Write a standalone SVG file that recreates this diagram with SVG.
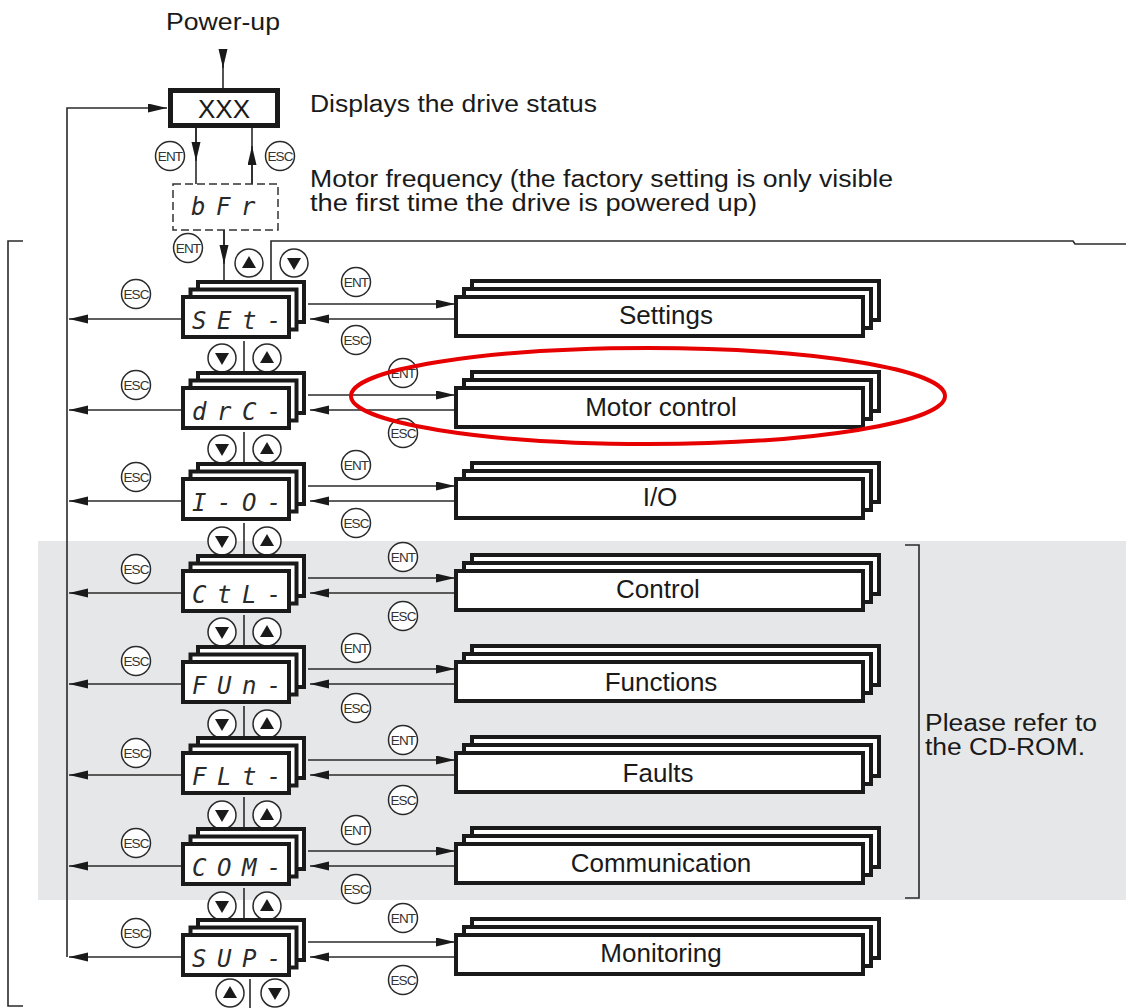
<svg xmlns="http://www.w3.org/2000/svg" width="1126" height="1008" viewBox="0 0 1126 1008">
<style>
  .t{font-family:"Liberation Sans",Arial,sans-serif;fill:#1a1a1a}
  .lbl{font-size:23.5px}
  .sub{font-size:26px;text-anchor:middle}
  .seg{font-family:"DejaVu Sans Mono",monospace;font-style:italic;font-size:24px;fill:#2a2a2a;letter-spacing:10.5px}
  .ln{fill:none;stroke:#2a2a2a;stroke-width:1.6}
  .frame{fill:#fff;stroke:#1a1a1a;stroke-width:4}
  .btn{fill:#fff;stroke:#2a2a2a;stroke-width:1.5}
  .btxt{font-family:"Liberation Sans",Arial,sans-serif;font-size:13.5px;fill:#333;text-anchor:middle;letter-spacing:-0.9px}
  .tri{fill:#1a1a1a}
</style>
<defs>
  <marker id="ah" markerUnits="userSpaceOnUse" markerWidth="20" markerHeight="10" refX="19" refY="4.5" orient="auto">
    <path d="M0,0 L19,4.5 L0,9 z" fill="#1a1a1a"/>
  </marker>
  <g id="stack">
    <rect class="frame" x="17" y="-13" width="106" height="40"/>
    <rect class="frame" x="9.5" y="-5.5" width="106" height="40"/>
    <rect class="frame" x="2" y="2" width="106" height="40" stroke-width="4.5"/>
  </g>
  <g id="sstack">
    <rect class="frame" x="18" y="-14" width="407" height="39"/>
    <rect class="frame" x="10" y="-6" width="407" height="39"/>
    <rect class="frame" x="2" y="2" width="407" height="39"/>
  </g>
  <g id="bup"><circle class="btn" r="14"/><path class="tri" d="M0,-7 L7,5 L-7,5 z"/></g>
  <g id="bdn"><circle class="btn" r="14"/><path class="tri" d="M0,7 L7,-5 L-7,-5 z"/></g>
  <g id="ent"><circle class="btn" r="14.5"/><text class="btxt" y="5">ENT</text></g>
  <g id="esc"><circle class="btn" r="14.5"/><text class="btxt" y="5">ESC</text></g>
</defs>

<rect x="38" y="541" width="1088" height="359" fill="#e6e7e9"/>

<!-- texts -->
<text class="t lbl" x="166" y="30" textLength="114" lengthAdjust="spacingAndGlyphs">Power-up</text>
<text class="t lbl" x="310" y="112" textLength="287" lengthAdjust="spacingAndGlyphs">Displays the drive status</text>
<text class="t lbl" x="310" y="187" textLength="583" lengthAdjust="spacingAndGlyphs">Motor frequency (the factory setting is only visible</text>
<text class="t lbl" x="310" y="211" textLength="447" lengthAdjust="spacingAndGlyphs">the first time the drive is powered up)</text>
<text class="t lbl" x="925" y="731" textLength="172" lengthAdjust="spacingAndGlyphs">Please refer to</text>
<text class="t lbl" x="925" y="755" textLength="160" lengthAdjust="spacingAndGlyphs">the CD-ROM.</text>

<!-- brackets -->
<path class="ln" d="M23,241 H8 V1006 H23"/>
<path class="ln" d="M905,545 H919 V898 H905"/>

<g id="connectors">
  <line class="ln" x1="223" y1="50" x2="223" y2="88"/>
  <path class="ln" d="M223,50 V68" marker-end="url(#ah)"/>
  <path class="ln" d="M67,957 V108 H167" marker-end="url(#ah)"/>
  <line class="ln" x1="196" y1="128" x2="196" y2="184"/>
  <path class="ln" d="M196,128 V161" marker-end="url(#ah)"/>
  <line class="ln" x1="252" y1="128" x2="252" y2="184"/>
  <path class="ln" d="M252,184 V146" marker-end="url(#ah)"/>
  <line class="ln" x1="224" y1="230" x2="224" y2="284"/>
  <path class="ln" d="M224,230 V264" marker-end="url(#ah)"/>
  <path class="ln" d="M271,284 V241 H1073 L1075,244 H1126"/>
  <path class="ln" d="M244,341 V375 M244,432 V466 M244,523 V558 M244,615 V649 M244,706 V740 M244,797 V831 M244,888 V922"/>
  <path class="ln" d="M250,979 V1008"/>
  <path class="ln" d="M183,319 H69" marker-end="url(#ah)"/>
  <path class="ln" d="M183,410 H69" marker-end="url(#ah)"/>
  <path class="ln" d="M183,501 H69" marker-end="url(#ah)"/>
  <path class="ln" d="M183,593 H69" marker-end="url(#ah)"/>
  <path class="ln" d="M183,684 H69" marker-end="url(#ah)"/>
  <path class="ln" d="M183,775 H69" marker-end="url(#ah)"/>
  <path class="ln" d="M183,866 H69" marker-end="url(#ah)"/>
  <path class="ln" d="M183,957 H69" marker-end="url(#ah)"/>
  <path class="ln" d="M308,304 H455" marker-end="url(#ah)"/>
  <path class="ln" d="M456,319 H310" marker-end="url(#ah)"/>
  <path class="ln" d="M308,395 H455" marker-end="url(#ah)"/>
  <path class="ln" d="M456,410 H310" marker-end="url(#ah)"/>
  <path class="ln" d="M308,486 H455" marker-end="url(#ah)"/>
  <path class="ln" d="M456,501 H310" marker-end="url(#ah)"/>
  <path class="ln" d="M308,578 H455" marker-end="url(#ah)"/>
  <path class="ln" d="M456,593 H310" marker-end="url(#ah)"/>
  <path class="ln" d="M308,669 H455" marker-end="url(#ah)"/>
  <path class="ln" d="M456,684 H310" marker-end="url(#ah)"/>
  <path class="ln" d="M308,760 H455" marker-end="url(#ah)"/>
  <path class="ln" d="M456,775 H310" marker-end="url(#ah)"/>
  <path class="ln" d="M308,851 H455" marker-end="url(#ah)"/>
  <path class="ln" d="M456,866 H310" marker-end="url(#ah)"/>
  <path class="ln" d="M308,942 H455" marker-end="url(#ah)"/>
  <path class="ln" d="M456,957 H310" marker-end="url(#ah)"/>
</g>

<g id="buttons">
  <use href="#ent" x="170" y="156"/>
  <use href="#esc" x="280" y="156"/>
  <use href="#ent" x="188" y="248"/>
  <use href="#bup" x="249" y="263"/>
  <use href="#bdn" x="294" y="263"/>
  <use href="#bdn" x="222" y="358"/><use href="#bup" x="267" y="358"/>
  <use href="#bdn" x="222" y="449"/><use href="#bup" x="267" y="449"/>
  <use href="#bdn" x="222" y="541"/><use href="#bup" x="267" y="541"/>
  <use href="#bdn" x="222" y="632"/><use href="#bup" x="267" y="632"/>
  <use href="#bdn" x="222" y="724"/><use href="#bup" x="267" y="724"/>
  <use href="#bdn" x="222" y="815"/><use href="#bup" x="267" y="815"/>
  <use href="#bdn" x="222" y="906"/><use href="#bup" x="267" y="906"/>
  <use href="#bup" x="230" y="993"/><use href="#bdn" x="275" y="993"/>
  <use href="#esc" x="136" y="294"/><use href="#esc" x="136" y="385"/>
  <use href="#esc" x="136" y="477"/><use href="#esc" x="136" y="569"/>
  <use href="#esc" x="136" y="661"/><use href="#esc" x="136" y="753"/>
  <use href="#esc" x="136" y="843"/><use href="#esc" x="136" y="933"/>
  <use href="#ent" x="356" y="282"/><use href="#esc" x="356" y="340"/>
  <use href="#ent" x="403" y="373"/><use href="#esc" x="403" y="433"/>
  <use href="#ent" x="356" y="465"/><use href="#esc" x="356" y="523"/>
  <use href="#ent" x="403" y="557"/><use href="#esc" x="403" y="616"/>
  <use href="#ent" x="356" y="648"/><use href="#esc" x="356" y="708"/>
  <use href="#ent" x="403" y="740"/><use href="#esc" x="403" y="800"/>
  <use href="#ent" x="356" y="830"/><use href="#esc" x="356" y="889"/>
  <use href="#ent" x="403" y="918"/><use href="#esc" x="403" y="980"/>
</g>

<g id="node-xxx">
  <rect x="170.5" y="90.5" width="107" height="35" fill="#fff" stroke="#1a1a1a" stroke-width="5"/>
  <text class="t" x="224" y="118" font-size="26" text-anchor="middle">XXX</text>
</g>
<g id="node-bfr">
  <rect x="173" y="184" width="105" height="46" fill="#fff" stroke="#333" stroke-width="1.5" stroke-dasharray="8,4"/>
  <text class="seg" x="191" y="215" font-size="22">bFr</text>
</g>

<g id="node-set"><use href="#stack" x="181" y="295"/><text class="seg" x="192" y="329">SEt-</text></g>
<g id="node-drc"><use href="#stack" x="181" y="386"/><text class="seg" x="192" y="420">drC-</text></g>
<g id="node-io"><use href="#stack" x="181" y="477"/><text class="seg" x="192" y="511">I-O-</text></g>
<g id="node-ctl"><use href="#stack" x="181" y="569"/><text class="seg" x="192" y="603">CtL-</text></g>
<g id="node-fun"><use href="#stack" x="181" y="660"/><text class="seg" x="192" y="694">FUn-</text></g>
<g id="node-flt"><use href="#stack" x="181" y="751"/><text class="seg" x="192" y="785">FLt-</text></g>
<g id="node-com"><use href="#stack" x="181" y="842"/><text class="seg" x="192" y="876">COM-</text></g>
<g id="node-sup"><use href="#stack" x="181" y="933"/><text class="seg" x="192" y="967">SUP-</text></g>

<g id="sub-settings"><use href="#sstack" x="454" y="295"/><text class="t sub" x="666" y="324">Settings</text></g>
<g id="sub-motor"><use href="#sstack" x="454" y="386"/><text class="t sub" x="661" y="416">Motor control</text></g>
<g id="sub-io"><use href="#sstack" x="454" y="477"/><text class="t sub" x="660" y="506">I/O</text></g>
<g id="sub-control"><use href="#sstack" x="454" y="569"/><text class="t sub" x="658" y="598">Control</text></g>
<g id="sub-functions"><use href="#sstack" x="454" y="660"/><text class="t sub" x="661" y="691">Functions</text></g>
<g id="sub-faults"><use href="#sstack" x="454" y="751"/><text class="t sub" x="658" y="782">Faults</text></g>
<g id="sub-comm"><use href="#sstack" x="454" y="842"/><text class="t sub" x="661" y="872">Communication</text></g>
<g id="sub-monitoring"><use href="#sstack" x="454" y="933"/><text class="t sub" x="661" y="962">Monitoring</text></g>

<ellipse cx="648" cy="396" rx="297" ry="48" fill="none" stroke="#e60000" stroke-width="4"/>
</svg>
